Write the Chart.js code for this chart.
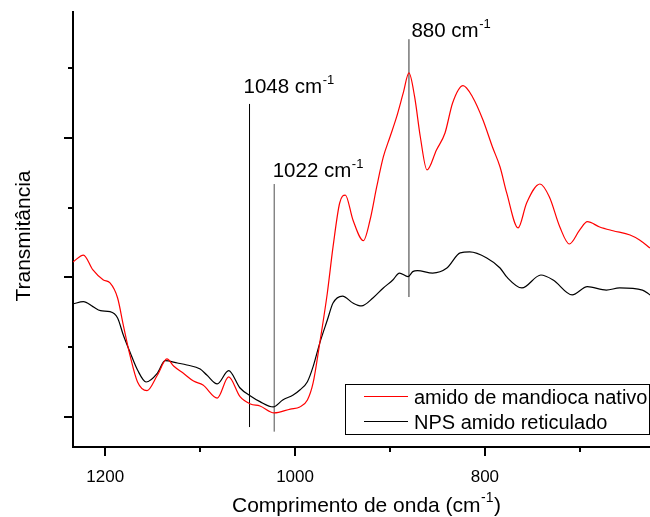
<!DOCTYPE html>
<html>
<head>
<meta charset="utf-8">
<script src="https://cdn.jsdelivr.net/npm/chart.js@4/dist/chart.umd.min.js"></script>
<style>
  html, body { margin: 0; padding: 0; background: #fff; }
  canvas { display: block; }
</style>
</head>
<body>
<canvas id="spectrum" width="650" height="517"></canvas>
<script>
// FTIR spectra (transmittance, arbitrary units) vs. wavenumber in cm-1
const redWavenumbers = [1234, 1223, 1213, 1202, 1195, 1187, 1181, 1174, 1166, 1156,
  1145, 1135, 1128, 1118, 1107, 1097, 1082, 1070, 1058, 1047,
  1037, 1022, 1005, 995, 987, 981, 974, 966, 960, 953,
  947, 939, 928, 921, 914, 907, 900, 893, 886, 880,
  874, 868, 861, 851, 842, 834, 823, 813, 802, 792,
  784, 777, 765, 756, 742, 732, 721, 711, 700, 692,
  679, 665, 647, 637, 626];
const redValues = [21.11, 21.61, 20.54, 19.82, 19.61, 18.53, 16.59, 14.44, 12.51, 11.89,
  13.01, 14.16, 13.66, 13.15, 12.58, 12.29, 11.36, 12.87, 11.46, 10.93,
  10.79, 10.29, 10.57, 10.72, 11.22, 12.44, 15.30, 18.89, 22.19, 25.34,
  25.91, 24.12, 22.64, 24.12, 26.49, 28.64, 30.07, 31.51, 33.23, 34.66,
  32.94, 30.07, 27.71, 29.14, 30.36, 32.51, 33.75, 32.94, 31.29, 29.35,
  27.92, 26.06, 23.55, 25.34, 26.70, 25.77, 23.62, 22.40, 23.41, 24.00,
  23.62, 23.35, 23.05, 22.69, 22.11];

const blackWavenumbers = [1234, 1223, 1213, 1205, 1195, 1187, 1181, 1174, 1166, 1157,
  1145, 1137, 1124, 1114, 1100, 1093, 1082, 1070, 1058, 1047,
  1037, 1023, 1013, 1002, 995, 987, 981, 974, 966, 960,
  950, 939, 930, 918, 907, 897, 890, 881, 876, 871,
  855, 840, 826, 816, 798, 784, 777, 761, 741, 728,
  708, 692, 672, 658, 634, 626];
const blackValues = [18.10, 18.27, 17.91, 17.62, 17.55, 17.10, 15.88, 14.66, 13.37, 12.51,
  13.15, 14.04, 13.87, 13.73, 13.44, 13.01, 12.37, 13.32, 12.08, 11.51,
  11.10, 10.72, 11.22, 11.58, 11.94, 12.53, 13.61, 15.30, 16.95, 18.17,
  18.67, 18.17, 17.96, 18.53, 19.25, 19.82, 20.32, 20.06, 20.42, 20.49,
  20.32, 20.68, 21.76, 21.83, 21.40, 20.68, 20.04, 19.25, 20.18, 19.82,
  18.75, 19.34, 19.10, 19.25, 19.10, 18.75];

const seriesLabels = ['amido de mandioca nativo', 'NPS amido reticulado'];

const xTicks = [1200, 1100, 1000, 900, 800, 700];
const xTickLabels = [1200, 1000, 800];
const yTicks = [10, 15, 20, 25, 30, 35];
const yMajorTicks = [10, 20, 30];

const markerWavenumbers = [1048, 1022, 880];
const markerLabels = ['1048', '1022', '880'];

// drawing layout for the band markers: vertical extent (y units) and label offsets (px)
const markerLayout = [
  { from: 9.28, to: 32.44, color: '#000000', dx: -6, dy: -11 },
  { from: 8.95, to: 26.70, color: '#4d4d4d', dx: -1.5, dy: -7 },
  { from: 18.60, to: 37.08, color: '#333333', dx: 2.5, dy: -2 }
];

const FONT = '"Liberation Sans", Arial, Helvetica, sans-serif';
const toPoints = (xs, ys) => xs.map((x, i) => ({ x: x, y: ys[i] }));

// text with a superscript part, e.g. "cm" + "-1"
function drawSup(ctx, x, y, base, sup, tail, size, supSize, raise) {
  ctx.font = size + 'px ' + FONT;
  ctx.fillText(base, x, y);
  let cx = x + ctx.measureText(base).width + 0.5;
  ctx.font = supSize + 'px ' + FONT;
  ctx.fillText(sup, cx, y - raise);
  cx += ctx.measureText(sup).width + 0.5;
  if (tail) {
    ctx.font = size + 'px ' + FONT;
    ctx.fillText(tail, cx, y);
  }
}

const decorations = {
  id: 'decorations',
  afterDraw(chart) {
    const { ctx, scales: { x, y } } = chart;
    ctx.save();
    ctx.fillStyle = '#000';
    ctx.strokeStyle = '#000';
    ctx.textAlign = 'left';
    ctx.textBaseline = 'alphabetic';

    // outward tick marks, long for major and short for minor
    ctx.lineWidth = 2;
    xTicks.forEach(v => {
      const px = Math.round(x.getPixelForValue(v));
      const len = xTickLabels.includes(v) ? 9 : 5;
      ctx.beginPath();
      ctx.moveTo(px, x.top);
      ctx.lineTo(px, x.top + len);
      ctx.stroke();
    });
    yTicks.forEach(v => {
      const py = Math.round(y.getPixelForValue(v));
      const len = yMajorTicks.includes(v) ? 9 : 5;
      ctx.beginPath();
      ctx.moveTo(y.right, py);
      ctx.lineTo(y.right - len, py);
      ctx.stroke();
    });

    // band marker labels
    markerWavenumbers.forEach((w, i) => {
      const m = markerLayout[i];
      const px = x.getPixelForValue(w) + m.dx;
      const py = y.getPixelForValue(m.to) + m.dy;
      drawSup(ctx, px, py, markerLabels[i] + ' cm', '-1', '', 20.5, 13, 9);
    });

    // axis titles
    drawSup(ctx, 232, 511.5, 'Comprimento de onda (cm', '-1', ')', 21, 14, 10);
    ctx.save();
    ctx.translate(29.5, 236);
    ctx.rotate(-Math.PI / 2);
    ctx.textAlign = 'center';
    ctx.font = '21px ' + FONT;
    ctx.fillText('Transmitância', 0, 0);
    ctx.restore();

    // legend box
    const ds = chart.data.datasets;
    ctx.fillStyle = '#fff';
    ctx.fillRect(345.5, 384.5, 304, 50);
    ctx.lineWidth = 1;
    ctx.strokeStyle = '#000';
    ctx.strokeRect(345.5, 384.5, 304, 50);
    [0, 1].forEach(i => {
      const ly = 396.5 + i * 25;
      ctx.strokeStyle = ds[i].borderColor;
      ctx.lineWidth = 1.2;
      ctx.beginPath();
      ctx.moveTo(364, ly);
      ctx.lineTo(408, ly);
      ctx.stroke();
      ctx.fillStyle = '#000';
      ctx.font = '20px ' + FONT;
      ctx.fillText(ds[i].label, 414, ly + 7.5);
    });
    ctx.restore();
  }
};

const markerDatasets = markerWavenumbers.map((w, i) => ({
  label: '',
  data: [{ x: w, y: markerLayout[i].from }, { x: w, y: markerLayout[i].to }],
  borderColor: markerLayout[i].color,
  borderWidth: 1,
  pointRadius: 0,
  fill: false
}));

new Chart(document.getElementById('spectrum'), {
  type: 'line',
  data: {
    datasets: [
      {
        label: seriesLabels[0],
        data: toPoints(redWavenumbers, redValues),
        borderColor: '#ff0000',
        borderWidth: 1.2,
        pointRadius: 0,
        cubicInterpolationMode: 'monotone',
        fill: false
      },
      {
        label: seriesLabels[1],
        data: toPoints(blackWavenumbers, blackValues),
        borderColor: '#000000',
        borderWidth: 1.2,
        pointRadius: 0,
        cubicInterpolationMode: 'monotone',
        fill: false
      },
      ...markerDatasets
    ]
  },
  options: {
    responsive: false,
    animation: false,
    devicePixelRatio: 1,
    layout: { padding: { top: 12, right: 0, bottom: 0, left: 0 } },
    plugins: {
      legend: { display: false },
      tooltip: { enabled: false },
      title: { display: false }
    },
    scales: {
      x: {
        type: 'linear',
        reverse: true,
        min: 626,
        max: 1234,
        grid: { display: false },
        border: { display: true, color: '#000', width: 2 },
        afterBuildTicks: s => { s.ticks = xTicks.map(v => ({ value: v })); },
        ticks: {
          font: { family: FONT, size: 17 },
          color: '#000',
          padding: 12,
          maxRotation: 0,
          autoSkip: false,
          callback: v => (xTickLabels.includes(v) ? String(v) : '')
        },
        afterFit: s => { s.height = 70; }
      },
      y: {
        type: 'linear',
        min: 7.85,
        max: 39.03,
        grid: { display: false },
        border: { display: true, color: '#000', width: 2 },
        ticks: { display: false },
        afterFit: s => { s.width = 73; }
      }
    }
  },
  plugins: [decorations]
});
</script>
</body>
</html>
